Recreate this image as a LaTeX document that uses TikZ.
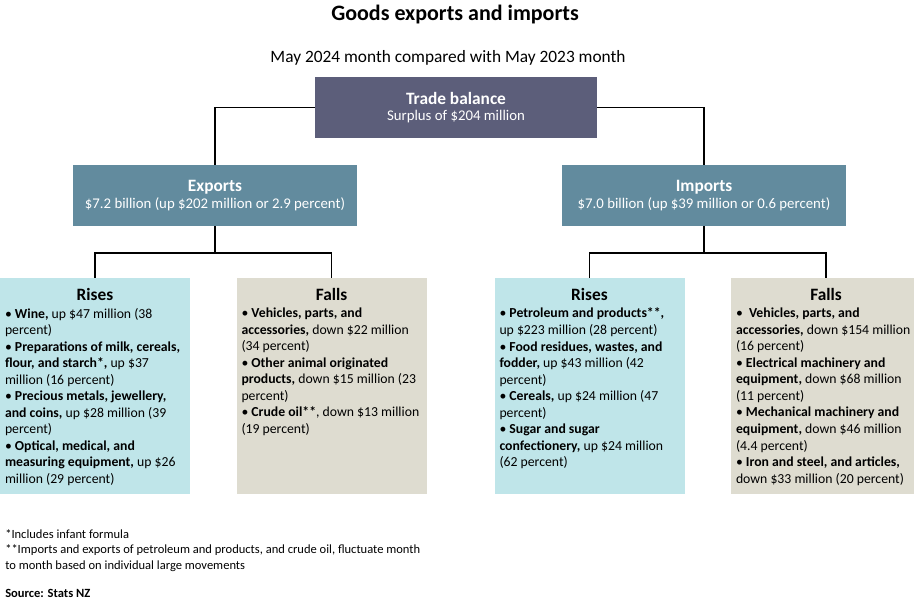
\documentclass[tikz,border=0pt]{standalone}
\usepackage{fontspec}
\setmainfont{Carlito}
\usepackage{tikz}
\usetikzlibrary{positioning}
\definecolor{myTrade}{RGB}{92, 94, 122}
\definecolor{myTotal}{RGB}{98, 139, 158}
\definecolor{myRise}{RGB}{191, 229, 233}
\definecolor{myFall}{RGB}{222, 220, 208}
\newcommand{\boxhead}{\fontsize{13}{14.25}\selectfont\bfseries}
\newcommand{\boxsub}{\fontsize{11.1}{14.25}\selectfont}
\newcommand{\listfont}{\fontsize{10.3}{12.4}\selectfont}
\newcommand{\notefont}{\fontsize{9.4}{11.6}\selectfont}

\begin{document}
\begin{tikzpicture}[
            x=0.75pt, y=-0.75pt,
            font=\listfont,
            % Styles
            topbox/.style={
                fill=myTrade, text=white, align=center, minimum width=211.5pt, minimum height=45.75pt, inner sep=0pt
            },
            sumbox/.style={
                fill=myTotal, text=white, align=center, minimum width=213pt, minimum height=45.75pt, inner sep=0pt
            },
            risebox/.style={
                fill=myRise, minimum width=142.5pt, minimum height=162pt, inner sep=0pt
            },
            fallbox/.style={
                fill=myFall, minimum width=142.5pt, minimum height=162pt, inner sep=0pt
            },
            head/.style={font=\boxhead, inner sep=0pt},
            listtext/.style={align=left, anchor=north west, inner sep=0pt},
            link/.style={line width=1.3pt, black}
        ]

            \useasboundingbox (0,0) rectangle (914,602);

            % --- Titles ---
            \node[font=\fontsize{16.5}{18}\selectfont\bfseries] (title) at (455,15) {Goods exports and imports};
            \node[font=\fontsize{13}{15}\selectfont] (subtitle) at (448,58) {May 2024 month compared with May 2023 month};

            % --- Nodes ---

            % 1. Trade balance
            \node[topbox] (trade) at (456,107.5) {\boxhead Trade balance\\\boxsub Surplus of \$204 million};

            % 2. Exports and imports
            \node[sumbox] (exports) at (215,195.5) {\boxhead Exports\\\boxsub \$7.2 billion (up \$202 million or 2.9 percent)};
            \node[sumbox] (imports) at (704,195.5) {\boxhead Imports\\\boxsub \$7.0 billion (up \$39 million or 0.6 percent)};

            % 3. Rises and falls boxes
            \node[risebox] (exrise) at (95,386) {};
            \node[fallbox] (exfall) at (331.5,386) {};
            \node[risebox] (imrise) at (589.5,386) {};
            \node[fallbox] (imfall) at (826,386) {};

            \node[head, below=8pt of exrise.north] (exrisehead) {Rises};
            \node[head, below=8pt of exfall.north] (exfallhead) {Falls};
            \node[head, below=8pt of imrise.north] (imrisehead) {Rises};
            \node[head, below=8pt of imfall.north] (imfallhead) {Falls};

            \node[listtext] (exrisetxt) at ([xshift=3.75pt, yshift=-5pt]exrise.west |- exrisehead.south) {%
                • \textbf{Wine,} up \$47 million (38\\
                percent)\\
                • \textbf{Preparations of milk, cereals,}\\
                \textbf{flour, and starch*,} up \$37\\
                million (16 percent)\\
                • \textbf{Precious metals, jewellery,}\\
                \textbf{and coins,} up \$28 million (39\\
                percent)\\
                • \textbf{Optical, medical, and}\\
                \textbf{measuring equipment,} up \$26\\
                million (29 percent)};

            \node[listtext] (exfalltxt) at ([xshift=3.75pt, yshift=-5pt]exfall.west |- exfallhead.south) {%
                • \textbf{Vehicles, parts, and}\\
                \textbf{accessories,} down \$22 million\\
                (34 percent)\\
                • \textbf{Other animal originated}\\
                \textbf{products,} down \$15 million (23\\
                percent)\\
                • \textbf{Crude oil**}, down \$13 million\\
                (19 percent)};

            \node[listtext] (imrisetxt) at ([xshift=3.75pt, yshift=-5pt]imrise.west |- imrisehead.south) {%
                • \textbf{Petroleum and products**,}\\
                up \$223 million (28 percent)\\
                • \textbf{Food residues, wastes, and}\\
                \textbf{fodder,} up \$43 million (42\\
                percent)\\
                • \textbf{Cereals,} up \$24 million (47\\
                percent)\\
                • \textbf{Sugar and sugar}\\
                \textbf{confectionery,} up \$24 million\\
                (62 percent)};

            \node[listtext] (imfalltxt) at ([xshift=3.75pt, yshift=-5pt]imfall.west |- imfallhead.south) {%
                •\ \ \textbf{Vehicles, parts, and}\\
                \textbf{accessories,} down \$154 million\\
                (16 percent)\\
                • \textbf{Electrical machinery and}\\
                \textbf{equipment,} down \$68 million\\
                (11 percent)\\
                • \textbf{Mechanical machinery and}\\
                \textbf{equipment,} down \$46 million\\
                (4.4 percent)\\
                • \textbf{Iron and steel, and articles,}\\
                down \$33 million (20 percent)};

            % --- Arrows ---
            \draw[link] (trade.west) -| (exports.north);
            \draw[link] (trade.east) -| (imports.north);

            \coordinate (exjoin) at ([yshift=-20.25pt]exports.south);
            \coordinate (imjoin) at ([yshift=-20.25pt]imports.south);
            \draw[link] (exports.south) -- (exjoin);
            \draw[link] (imports.south) -- (imjoin);
            \draw[link] (exrise.north) |- (exjoin) -| (exfall.north);
            \draw[link] (imrise.north) |- (imjoin) -| (imfall.north);

            % --- Footnotes ---
            \node[listtext, font=\notefont] (notes) at (5,529) {%
                *Includes infant formula\\
                **Imports and exports of petroleum and products, and crude oil, fluctuate month\\
                to month based on individual large movements};
            \node[font=\notefont\bfseries, below=13pt of notes.south west, anchor=north west, inner sep=0pt] (source) {Source: Stats NZ};

        \end{tikzpicture}
\end{document}
